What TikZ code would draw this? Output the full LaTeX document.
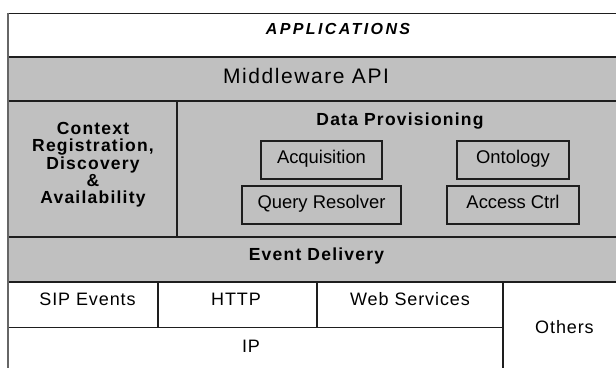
\documentclass[tikz,border=0pt]{standalone}
\usepackage{fontspec}
\setmainfont{Liberation Sans}
% letter-spaced cuts of the same family
\newfontfamily\lsreg[LetterSpace=5]{Liberation Sans}
\newfontfamily\lsbold[LetterSpace=7]{Liberation Sans}
\newfontfamily\lsapps[LetterSpace=15]{Liberation Sans}
\newfontfamily\lsmw[LetterSpace=7.5]{Liberation Sans}
\definecolor{layergrey}{RGB}{192,192,192}
\definecolor{rulecol}{RGB}{30,30,30}

\begin{document}
\begin{tikzpicture}[x=1pt,y=-1pt,
  layer/.style={draw=rulecol,line width=1.5pt},
  plainlbl/.style={font={\lsreg\fontsize{18}{18}\selectfont},anchor=base,inner sep=0pt},
  heavylbl/.style={font={\lsbold\bfseries\fontsize{17.5}{17.25}\selectfont},anchor=base,inner sep=0pt},
  module/.style={draw=rulecol,line width=1.5pt,fill=layergrey,inner sep=0pt,
    minimum height=38pt,text height=6.6pt,text depth=0pt,
    font={\fontsize{18.4}{18.4}\selectfont}}]

\useasboundingbox (0,0) rectangle (616,367);
\fill[white] (0,0) rectangle (616,367);
\clip (0,0) rectangle (616,367);

% layers of the stack
\filldraw[layer,fill=white]      (8,13.5) rectangle (640,57);
\filldraw[layer,fill=layergrey]  (8,57)   rectangle (640,101);
\filldraw[layer,fill=layergrey]  (8,101)  rectangle (177,237);
\filldraw[layer,fill=layergrey]  (177,101) rectangle (640,237);
\filldraw[layer,fill=layergrey]  (8,237)  rectangle (640,282);
\filldraw[layer,fill=white]      (8,282)  rectangle (158,327.7);
\filldraw[layer,fill=white]      (158,282) rectangle (317,327.7);
\filldraw[layer,fill=white]      (317,282) rectangle (503,327.7);
\filldraw[layer,fill=white]      (8,327.7) rectangle (503,390);
\filldraw[layer,fill=white]      (503,282) rectangle (640,390);
\draw[draw=black!60,line width=2pt] (8,12.8) -- (8,380);

% layer titles
\node[font={\lsapps\bfseries\itshape\fontsize{16}{16}\selectfont},anchor=base,inner sep=0pt]
  (apps) at (338,34) {APPLICATIONS};
\node[font={\lsmw\fontsize{21}{21}\selectfont},anchor=base,inner sep=0pt]
  (mwapi) at (306,83.3) {Middleware API};
\node[heavylbl] (dprov) at (400,125) {Data Provisioning};
\node[heavylbl] (ctx1) at (93,134.3) {Context};
\node[heavylbl] (ctx2) at (93,151.7) {Registration,};
\node[heavylbl] (ctx3) at (93,169)   {Discovery};
\node[heavylbl] (ctx4) at (93,186.3) {\&};
\node[heavylbl] (ctx5) at (93,203.3) {Availability};
\node[heavylbl] (evdel) at (316.5,260.7) {Event Delivery};

% data provisioning modules
\node[module,minimum width=121pt] (acq)  at (321.5,160) {Acquisition};
\node[module,minimum width=159pt] (qres) at (321.5,205) {Query Resolver};
\node[module,minimum width=112pt] (onto) at (513,160) {Ontology\hspace{12pt}};
\node[module,minimum width=132pt] (actl) at (513,205) {Access Ctrl\hspace{10pt}};

% transports
\node[plainlbl] (sip)    at (87.5,305)   {SIP Events};
\node[plainlbl] (http)   at (236,305.7)  {HTTP};
\node[plainlbl] (ws)     at (410,305.7)  {Web Services};
\node[plainlbl] (ip)     at (251,352.7)  {IP};
\node[plainlbl] (others) at (564.5,333.3) {Others};
\end{tikzpicture}
\end{document}
